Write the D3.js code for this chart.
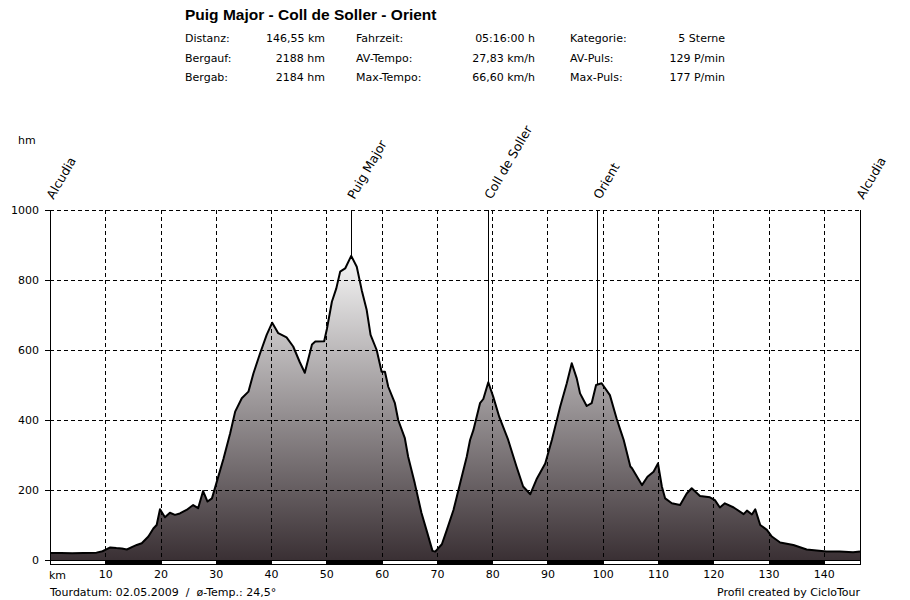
<!DOCTYPE html>
<html>
<head>
<meta charset="utf-8">
<script src="https://cdn.jsdelivr.net/npm/d3@7"></script>
<style>
  body { margin: 0; background: #fff; }
  text { font-family: "DejaVu Sans", Verdana, sans-serif; fill: #000; }
</style>
</head>
<body>
<script>
'use strict'

// profile: distance (km) / elevation (hm)
const km = [0, 2, 4, 6, 8.4, 9.5, 10, 10.9, 12, 13, 13.9, 15, 15.7, 16.6, 17.8, 18.7, 19.3, 19.9,
	20.8, 21.7, 22.6, 23.5, 24.7, 25.9, 26.8, 27.7, 28.5, 29.3, 30, 31.4, 32.6, 33.5, 34.7, 35.9,
	36.8, 38, 39.2, 40.2, 41.3, 42.8, 44, 45.2, 46.1, 47.4, 48, 49.6, 50.1, 51, 51.8, 52.5, 53.4,
	54.5, 55.5, 56.4, 57.3, 58, 59.1, 60, 60.6, 61.2, 62.4, 63, 64.2, 64.8, 66, 67.2, 68.2, 69.2,
	69.7, 70.9, 71.8, 73, 73.6, 74.2, 75.4, 76, 76.6, 77.8, 78.4, 79.3, 80.2, 81.3, 82.9, 84.4,
	85.6, 86.9, 88.1, 89.6, 90.8, 92.3, 93.5, 94.4, 95.3, 95.9, 97.1, 98, 98.8, 99.8, 101.3,
	102.5, 103.2, 103.8, 105, 105.3, 107.1, 108.1, 109.2, 110, 110.7, 111.3, 112.5, 114, 115.2,
	116.1, 117.6, 119.4, 120.3, 121.2, 122.1, 123.7, 125.5, 126.1, 127, 127.6, 128.5, 129.7,
	130.6, 132.1, 134.5, 136.9, 140.5, 142.9, 145.3, 146.55];
const hm = [20, 20, 19, 20, 21, 25, 29, 36, 34, 33, 30, 38, 43, 48, 67, 90, 100, 145,
	122, 135, 129, 133, 143, 157, 148, 197, 167, 176, 214, 290, 362, 424, 462, 481,
	533, 590, 643, 678, 648, 636, 610, 565, 535, 616, 624, 625, 660, 738, 776, 824, 833,
	869, 838, 771, 714, 643, 600, 538, 538, 495, 448, 400, 348, 295, 219, 135, 81, 26,
	24, 45, 86, 143, 181, 219, 295, 343, 371, 448, 460, 508, 466, 408, 343, 267,
	210, 188, 233, 276, 343, 438, 505, 562, 519, 476, 440, 448, 500, 505, 471,
	405, 371, 343, 267, 262, 214, 238, 252, 276, 210, 176, 162, 157, 190,
	205, 183, 179, 171, 150, 162, 150, 131, 141, 130, 145, 100, 86,
	67, 50, 43, 30, 24, 24, 22, 24];

const waypointNames = ["Alcudia", "Puig Major", "Coll de Soller", "Orient", "Alcudia"];
const waypointKm = [0, 54.5, 79.3, 99.0, 146.55];

const xTicks = [10, 20, 30, 40, 50, 60, 70, 80, 90, 100, 110, 120, 130, 140];
const yTicks = [0, 200, 400, 600, 800, 1000];

const title = "Puig Major - Coll de Soller - Orient";
const statLabels = [["Distanz:", "Bergauf:", "Bergab:"],
	["Fahrzeit:", "AV-Tempo:", "Max-Tempo:"],
	["Kategorie:", "AV-Puls:", "Max-Puls:"]];
const statValues = [["146,55 km", "2188 hm", "2184 hm"],
	["05:16:00 h", "27,83 km/h", "66,60 km/h"],
	["5 Sterne", "129 P/min", "177 P/min"]];
const footLeft = "Tourdatum: 02.05.2009  /  ø-Temp.: 24,5°";
const footRight = "Profil created by CicloTour";

const w = 910;
const h = 600;
const pLeft = 50, pRight = 860, pTop = 210, pBottom = 560;

const xScale = d3.scaleLinear()
	.domain([0, d3.max(km)])
	.range([pLeft, pRight]);

const yScale = d3.scaleLinear()
	.domain([0, 1000])
	.range([pBottom, pTop]);

const svg = d3.select("body")
	.append("svg")
	.attr("width", w)
	.attr("height", h);

// header
svg.append("text")
	.attr("x", 185)
	.attr("y", 20)
	.style("font-family", "'Liberation Sans', Arial, sans-serif")
	.style("font-size", "15.5px")
	.style("font-weight", "bold")
	.text(title);

const colLabelX = [185, 356, 570];
const colValueX = [325, 535, 725];
const rowY = [42, 62, 81];

statLabels.forEach((col, i) => {
	col.forEach((t, j) => {
		svg.append("text")
			.attr("x", colLabelX[i])
			.attr("y", rowY[j])
			.style("font-size", "11px")
			.text(t);
		svg.append("text")
			.attr("x", colValueX[i])
			.attr("y", rowY[j])
			.attr("text-anchor", "end")
			.style("font-size", "11px")
			.text(statValues[i][j]);
	});
});

// gradient fill
const grad = svg.append("defs")
	.append("linearGradient")
	.attr("id", "fill")
	.attr("gradientUnits", "userSpaceOnUse")
	.attr("x1", 0).attr("x2", 0)
	.attr("y1", yScale(d3.max(hm)))
	.attr("y2", yScale(0));
grad.append("stop").attr("offset", 0).attr("stop-color", "#f6f6f6");
grad.append("stop").attr("offset", 1).attr("stop-color", "#3a3034");

const data = km.map((d, i) => [d, hm[i]]);

const area = d3.area()
	.x((d) => xScale(d[0]))
	.y0(yScale(0))
	.y1((d) => yScale(d[1]));

const line = d3.line()
	.x((d) => xScale(d[0]))
	.y((d) => yScale(d[1]));

svg.append("path")
	.datum(data)
	.attr("fill", "url(#fill)")
	.attr("d", area);

svg.append("path")
	.datum(data)
	.attr("fill", "none")
	.attr("stroke", "#000")
	.attr("stroke-width", 2)
	.attr("stroke-linejoin", "round")
	.attr("d", line);

// dashed grid
svg.selectAll(".hgrid")
	.data(yTicks.filter((d) => d > 0))
	.enter()
	.append("line")
	.attr("class", "hgrid")
	.attr("x1", pLeft)
	.attr("x2", pRight)
	.attr("y1", (d) => Math.round(yScale(d)) + 0.5)
	.attr("y2", (d) => Math.round(yScale(d)) + 0.5)
	.attr("stroke", "#000")
	.attr("stroke-dasharray", "4,3");

svg.selectAll(".vgrid")
	.data(xTicks)
	.enter()
	.append("line")
	.attr("class", "vgrid")
	.attr("x1", (d) => Math.round(xScale(d)) + 0.5)
	.attr("x2", (d) => Math.round(xScale(d)) + 0.5)
	.attr("y1", pTop)
	.attr("y2", pBottom)
	.attr("stroke", "#000")
	.attr("stroke-dasharray", "4,3");

// waypoint markers
const elevAt = (k) => {
	const i = d3.bisectLeft(km, k);
	if (i <= 0) return hm[0];
	if (i >= km.length) return hm[hm.length - 1];
	const t = (k - km[i - 1]) / (km[i] - km[i - 1]);
	return hm[i - 1] + t * (hm[i] - hm[i - 1]);
};

waypointKm.forEach((k, i) => {
	const x = Math.round(xScale(k)) + 0.5;
	svg.append("line")
		.attr("x1", x).attr("x2", x)
		.attr("y1", pTop)
		.attr("y2", yScale(elevAt(k)))
		.attr("stroke", "#000");
	svg.append("text")
		.attr("transform", "translate(" + (x + 3) + "," + (pTop - 10) + ") rotate(-60)")
		.style("font-size", "12.5px")
		.text(waypointNames[i]);
});

// y axis
svg.append("g")
	.attr("transform", "translate(" + pLeft + ",0)")
	.call(d3.axisLeft(yScale).tickValues(yTicks).tickFormat(d3.format("d"))
		.tickSize(5).tickSizeOuter(0).tickPadding(6))
	.call((g) => g.selectAll("text").style("font-size", "11px").attr("fill", "#000"))
	.call((g) => g.selectAll("line, path").attr("stroke", "#000"));

// right border
svg.append("line")
	.attr("x1", pRight + 0.5).attr("x2", pRight + 0.5)
	.attr("y1", pTop).attr("y2", pBottom)
	.attr("stroke", "#000");

// km band
const bounds = [0].concat(xTicks, [d3.max(km)]);
svg.selectAll(".band")
	.data(d3.pairs(bounds))
	.enter()
	.append("rect")
	.attr("class", "band")
	.attr("x", (d) => Math.round(xScale(d[0])) + 0.5)
	.attr("y", pBottom + 0.5)
	.attr("width", (d) => Math.round(xScale(d[1])) - Math.round(xScale(d[0])))
	.attr("height", 4)
	.attr("fill", (d, i) => i % 2 ? "#000" : "#fff")
	.attr("stroke", "#000");

// x axis
svg.append("g")
	.attr("transform", "translate(0," + pBottom + ")")
	.call(d3.axisBottom(xScale).tickValues(xTicks).tickSize(0).tickPadding(10))
	.call((g) => g.select(".domain").remove())
	.call((g) => g.selectAll("text").style("font-size", "11px").attr("fill", "#000"));

svg.append("text")
	.attr("x", pLeft - 1)
	.attr("y", 579)
	.style("font-size", "11px")
	.text("km");

svg.append("text")
	.attr("x", 18)
	.attr("y", 144)
	.style("font-size", "11px")
	.text("hm");

// footer
svg.append("text")
	.attr("x", pLeft)
	.attr("y", 596)
	.attr("xml:space", "preserve")
	.style("font-size", "11px")
	.text(footLeft);

svg.append("text")
	.attr("x", pRight)
	.attr("y", 596)
	.attr("text-anchor", "end")
	.style("font-size", "11px")
	.text(footRight);
</script>
</body>
</html>
